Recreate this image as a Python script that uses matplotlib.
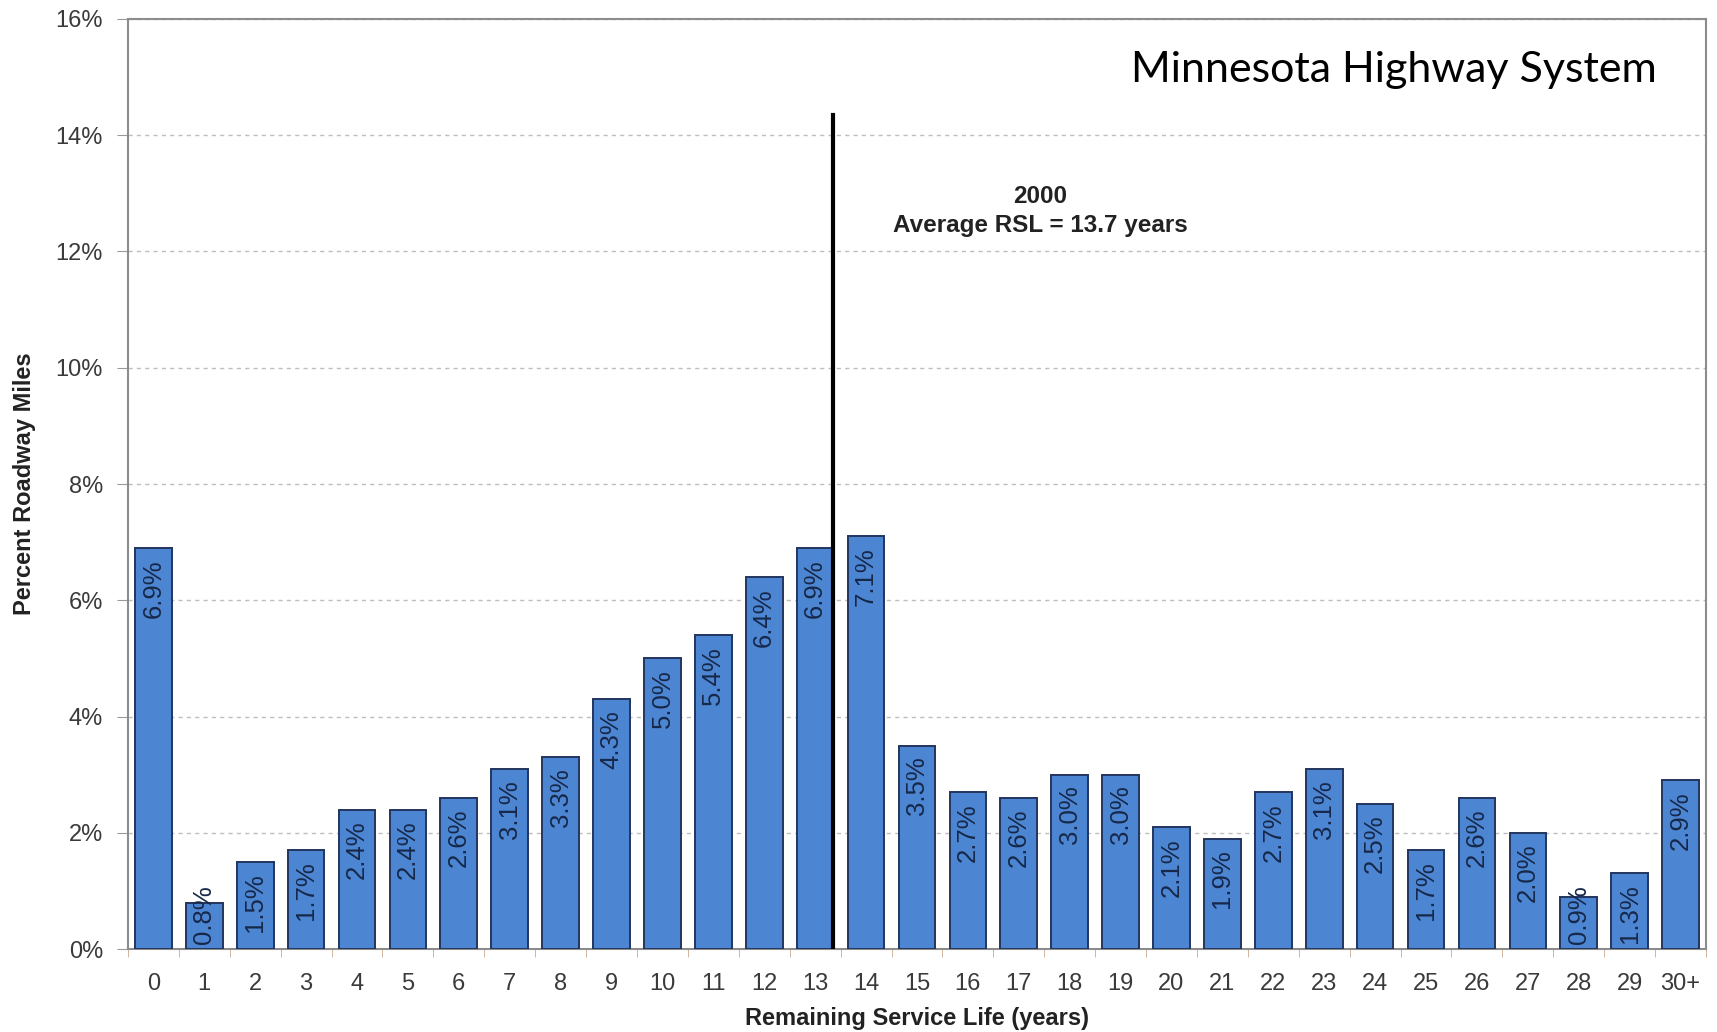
import matplotlib.pyplot as plt
import numpy as np

# Anteil der Fahrbahnmeilen je Restnutzungsdauer (Prozent)
jahre = [str(i) for i in range(30)] + ["30+"]
anteil = [6.9, 0.8, 1.5, 1.7, 2.4, 2.4, 2.6, 3.1, 3.3, 4.3,
          5.0, 5.4, 6.4, 6.9, 7.1, 3.5, 2.7, 2.6, 3.0, 3.0,
          2.1, 1.9, 2.7, 3.1, 2.5, 1.7, 2.6, 2.0, 0.9, 1.3, 2.9]
y_ticks = [0, 2, 4, 6, 8, 10, 12, 14, 16]

# Mittlere Restnutzungsdauer als senkrechte Linie
rsl_pos = 13.35
rsl_top = 14.35

narrow = ["Liberation Sans Narrow", "Liberation Sans", "DejaVu Sans"]
arial = ["Liberation Sans", "DejaVu Sans"]

fig = plt.figure(figsize=(17.17, 10.32), dpi=100)
ax = fig.add_axes([0.0745, 0.0804, 0.9191, 0.9012])

x = np.arange(len(jahre))
ax.bar(x, anteil, width=0.72, color="#4c86d2", edgecolor="#22355e",
       linewidth=1.4, zorder=3)

# Werte senkrecht in die Balken schreiben
for xi, v in zip(x, anteil):
    txt = f"{v:.1f}%"
    if v - 0.19 < 0.95:
        ax.text(xi, 0.08, txt, rotation=90, ha="center", va="bottom",
                fontsize=18.5, color="#17284a", family=narrow, zorder=4)
    else:
        ax.text(xi, v - 0.19, txt, rotation=90, ha="center", va="top",
                fontsize=18.5, color="#17284a", family=narrow, zorder=4)

ax.plot([rsl_pos, rsl_pos], [0, rsl_top], color="black", linewidth=3,
        zorder=5)
ax.text(17.42, 12.95, "2000", ha="center", va="center", fontsize=17.5,
        fontweight="bold", color="#222222", family=arial)
ax.text(17.42, 12.45, "Average RSL = 13.7 years", ha="center", va="center",
        fontsize=17.5, fontweight="bold", color="#222222", family=arial)

ax.set_xlim(-0.5, len(jahre) - 0.5)
ax.set_ylim(0, 16)
ax.set_yticks(y_ticks)
ax.set_yticklabels([f"{t}%" for t in y_ticks], family=arial, fontsize=17,
                   color="#3a3a3a")
ax.set_xticks(x)
ax.set_xticklabels(jahre, family=arial, fontsize=17, color="#3a3a3a")
ax.set_xticks(np.arange(-0.5, len(jahre), 1), minor=True)
ax.tick_params(axis="x", which="major", length=0, pad=17)
ax.tick_params(axis="x", which="minor", length=6, color="#c9a98a")
ax.tick_params(axis="y", length=8, color="#999999", pad=10)

ax.grid(axis="y", linestyle=(0, (3, 3)), color="#bdbdbd", linewidth=1.0,
        zorder=0)
for side in ["left", "right", "top", "bottom"]:
    ax.spines[side].set_color("#8c8c8c")
    ax.spines[side].set_linewidth(1.5)

ax.set_ylabel("Percent Roadway Miles", family=narrow, fontsize=17,
              fontweight="bold", color="#222222", labelpad=14)
ax.set_xlabel("Remaining Service Life (years)", family=arial, fontsize=17,
              fontweight="bold", color="#222222", labelpad=9)

fig.text(1657 / 1717, 1 - 70 / 1032, "Minnesota Highway System",
         ha="right", va="center", fontsize=31, family=["Lato", "DejaVu Sans"],
         color="black")

fig.savefig("out.png", dpi=100)
